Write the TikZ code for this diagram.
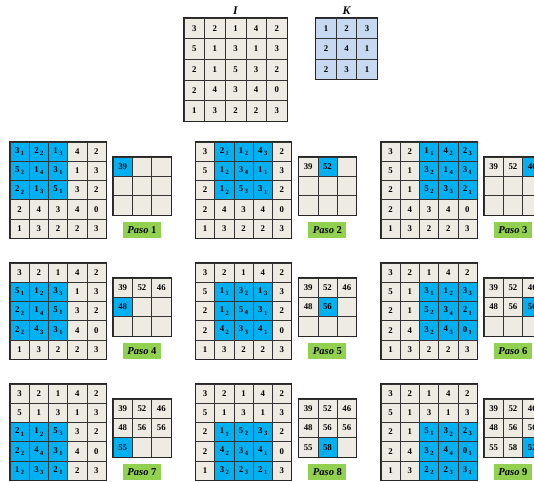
\documentclass[tikz,border=0pt]{standalone}
\usepackage{fontspec}
\setmainfont{Liberation Serif}
\usetikzlibrary{positioning}
\definecolor{celda}{RGB}{238,236,226}
\definecolor{azul}{RGB}{0,176,240}
\definecolor{kazul}{RGB}{198,217,241}
\definecolor{verde}{RGB}{146,208,80}
\newcommand{\subk}[1]{\,\raisebox{-0.55ex}{\fontsize{5.5}{6}\selectfont #1}}

\begin{document}
\begin{tikzpicture}[x=0.03cm,y=-0.03cm,
  cell/.style={draw=black!80,line width=0.5pt,fill=celda,inner sep=0pt,minimum size=0.576cm,font=\bfseries\fontsize{7.5}{8}\selectfont},
  marco/.style={draw=black!85,line width=1.1pt},
  titulo/.style={font=\bfseries\itshape\fontsize{10}{12}\selectfont},
  pasobox/.style={fill=verde,minimum width=1.14cm,minimum height=0.48cm,inner sep=0pt,font=\bfseries\fontsize{9}{10}\selectfont}]
\useasboundingbox (0,0) rectangle (534,482);
\clip (0,0) rectangle (534,482);

% imagen I y kernel K
\node[titulo] (tI) at (235.5,11) {I};
\foreach \fila [count=\i from 0] in {{3,2,1,4,2},{5,1,3,1,3},{2,1,5,3,2},{2,4,3,4,0},{1,3,2,2,3}}
  \foreach \v [count=\j from 0] in \fila
    \node[cell,minimum size=0.618cm] (I-\i-\j) at (194.3+20.6*\j,28.3+20.6*\i) {\v};
\draw[marco] (I-0-0.north west) rectangle (I-4-4.south east);

\node[titulo] (tK) at (346.5,11) {K};
\foreach \fila [count=\i from 0] in {{1,2,3},{2,4,1},{2,3,1}}
  \foreach \v [count=\j from 0] in \fila
    \node[cell,fill=kazul,minimum size=0.615cm] (K-\i-\j) at (326+20.5*\j,28.3+20.5*\i) {\v};
\draw[marco] (K-0-0.north west) rectangle (K-2-2.south east);

% pasos de la convolucion
\foreach \paso in {0,...,8} {
  \pgfmathtruncatemacro\ren{int(\paso/3)}
  \pgfmathtruncatemacro\col{mod(\paso,3)}
  \pgfmathsetmacro\xo{10+185.5*\col}
  \pgfmathsetmacro\yo{142+121*\ren}
  \foreach \fila [count=\i from 0] in {{3,2,1,4,2},{5,1,3,1,3},{2,1,5,3,2},{2,4,3,4,0},{1,3,2,2,3}}
    \foreach \v [count=\j from 0] in \fila {
      \pgfmathtruncatemacro\dentro{(\i>=\ren)&&(\i<\ren+3)&&(\j>=\col)&&(\j<\col+3)}
      \ifnum\dentro=1
        \pgfmathtruncatemacro\kv{{1,2,3,2,4,1,2,3,1}[3*(\i-\ren)+\j-\col]}
        \node[cell,fill=azul] (p\paso-\i-\j) at (\xo+9.6+19.2*\j,\yo+9.6+19.2*\i) {\v\subk{\kv}};
      \else
        \node[cell] (p\paso-\i-\j) at (\xo+9.6+19.2*\j,\yo+9.6+19.2*\i) {\v};
      \fi
    }
  \draw[marco] (p\paso-0-0.north west) rectangle (p\paso-4-4.south east);
  % salida
  \foreach \v [count=\k from 0] in {39,52,46,48,56,56,55,58,52} {
    \pgfmathtruncatemacro\oi{int(\k/3)}
    \pgfmathtruncatemacro\oj{mod(\k,3)}
    \ifnum\k<\paso
      \node[cell,minimum size=0.579cm] (o\paso-\oi-\oj) at (\xo+112.65+19.3*\oj,\yo+24.65+19.3*\oi) {\v};
    \else\ifnum\k=\paso
      \node[cell,fill=azul,minimum size=0.579cm] (o\paso-\oi-\oj) at (\xo+112.65+19.3*\oj,\yo+24.65+19.3*\oi) {\v};
    \else
      \node[cell,minimum size=0.579cm] (o\paso-\oi-\oj) at (\xo+112.65+19.3*\oj,\yo+24.65+19.3*\oi) {};
    \fi\fi
  }
  \draw[marco,line width=0.9pt] (o\paso-0-0.north west) rectangle (o\paso-2-2.south east);
  \pgfmathtruncatemacro\num{\paso+1}
  \node[pasobox,below=0.2cm of o\paso-2-1] (l\paso) {\textit{Paso} \num};
}
\end{tikzpicture}
\end{document}
